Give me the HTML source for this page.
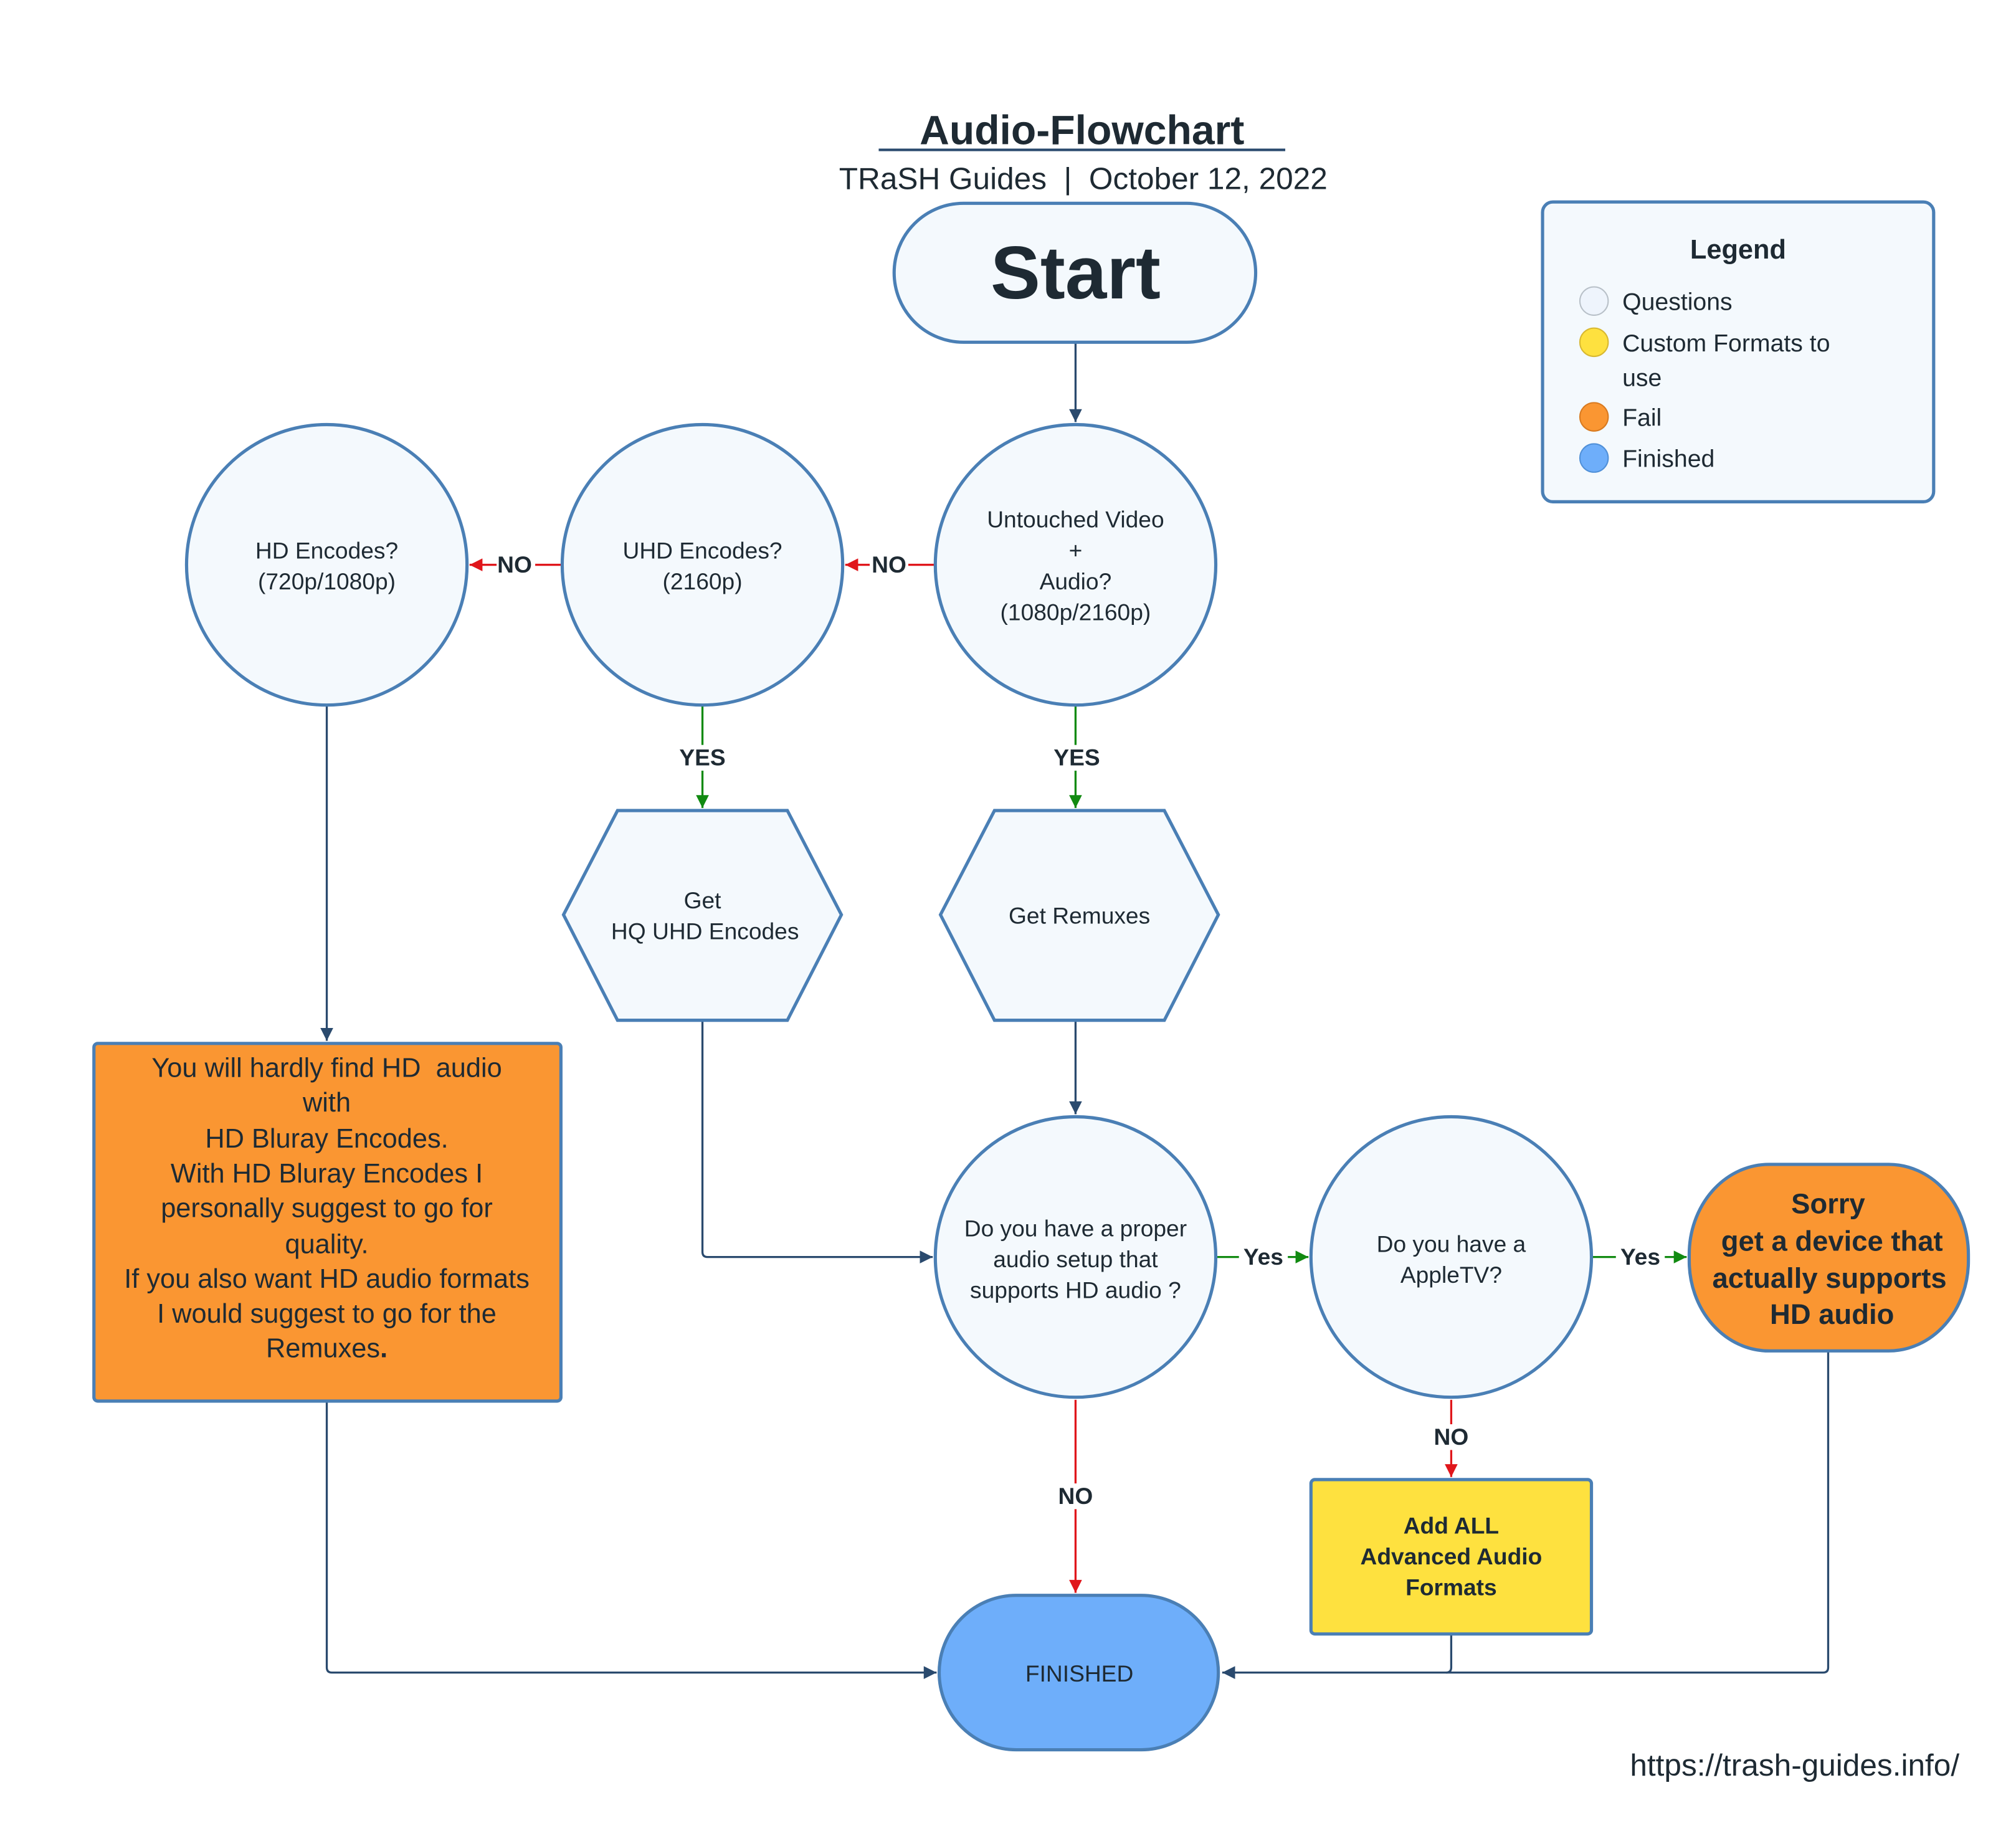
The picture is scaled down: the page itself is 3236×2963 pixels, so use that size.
<!DOCTYPE html>
<html><head><meta charset="utf-8"><style>
html,body{margin:0;padding:0;background:#fff}
svg{display:block}
text{font-family:"Liberation Sans",sans-serif;fill:#1e2a33}
</style></head><body>
<svg width="3236" height="2963" viewBox="0 0 1567 1434.8" xmlns="http://www.w3.org/2000/svg">
<defs>
<marker id="ab" viewBox="0 0 10 10" refX="10" refY="5" markerWidth="11" markerHeight="10" orient="auto-start-reverse" markerUnits="userSpaceOnUse"><path d="M0,0 L10,5 L0,10 z" fill="#2a4a6e"/></marker>
<marker id="ar" viewBox="0 0 10 10" refX="10" refY="5" markerWidth="11" markerHeight="10" orient="auto" markerUnits="userSpaceOnUse"><path d="M0,0 L10,5 L0,10 z" fill="#e0161b"/></marker>
<marker id="ag" viewBox="0 0 10 10" refX="10" refY="5" markerWidth="11" markerHeight="10" orient="auto" markerUnits="userSpaceOnUse"><path d="M0,0 L10,5 L0,10 z" fill="#118a11"/></marker>
</defs>
<rect width="1567" height="1434.8" fill="#fff"/>
<!-- title -->
<text x="841" y="112" font-size="32" font-weight="bold" text-anchor="middle">Audio-Flowchart</text>
<line x1="683" y1="116.5" x2="999" y2="116.5" stroke="#2a4a6e" stroke-width="2"/>
<text x="842" y="147" font-size="24" text-anchor="middle" xml:space="preserve">TRaSH Guides  |  October 12, 2022</text>

<!-- connectors -->
<g fill="none" stroke="#2a4a6e" stroke-width="1.6">
<line x1="836" y1="266" x2="836" y2="328" marker-end="url(#ab)"/>
<line x1="254" y1="548" x2="254" y2="809" marker-end="url(#ab)"/>
<path d="M546,793 V973 Q546,977 550,977 H725" marker-end="url(#ab)"/>
<line x1="836" y1="793" x2="836" y2="866" marker-end="url(#ab)"/>
<path d="M254,1089 V1296 Q254,1300 258,1300 H728" marker-end="url(#ab)"/>
<path d="M1128,1270 V1296 Q1128,1300 1124,1300"/>
<path d="M1421,1050 V1296 Q1421,1300 1417,1300 H950" marker-end="url(#ab)"/>
</g>
<g fill="none" stroke-width="1.6">
<line x1="726" y1="439" x2="657" y2="439" stroke="#e0161b" marker-end="url(#ar)"/>
<line x1="436" y1="439" x2="365" y2="439" stroke="#e0161b" marker-end="url(#ar)"/>
<line x1="546" y1="548" x2="546" y2="628" stroke="#118a11" marker-end="url(#ag)"/>
<line x1="836" y1="548" x2="836" y2="628" stroke="#118a11" marker-end="url(#ag)"/>
<line x1="945" y1="977" x2="1017" y2="977" stroke="#118a11" marker-end="url(#ag)"/>
<line x1="1238" y1="977" x2="1311" y2="977" stroke="#118a11" marker-end="url(#ag)"/>
<line x1="836" y1="1088" x2="836" y2="1238" stroke="#e0161b" marker-end="url(#ar)"/>
<line x1="1128" y1="1088" x2="1128" y2="1148" stroke="#e0161b" marker-end="url(#ar)"/>
</g>
<!-- edge labels -->
<g font-size="18" font-weight="bold" text-anchor="middle">
<rect x="676" y="429" width="30" height="20" fill="#fff"/><text x="691" y="445">NO</text>
<rect x="386" y="429" width="30" height="20" fill="#fff"/><text x="400" y="445">NO</text>
<rect x="526" y="579" width="40" height="20" fill="#fff"/><text x="546" y="595">YES</text>
<rect x="816" y="579" width="40" height="20" fill="#fff"/><text x="837" y="595">YES</text>
<rect x="963" y="967" width="38" height="20" fill="#fff"/><text x="982" y="983">Yes</text>
<rect x="1256" y="967" width="38" height="20" fill="#fff"/><text x="1275" y="983">Yes</text>
<rect x="820" y="1153" width="32" height="20" fill="#fff"/><text x="836" y="1169">NO</text>
<rect x="1112" y="1107" width="32" height="20" fill="#fff"/><text x="1128" y="1123">NO</text>
</g>

<!-- nodes -->
<g stroke="#4a7fb5" stroke-width="2.5" fill="#f4f9fd">
<rect x="695" y="158" width="281" height="108" rx="54"/>
<circle cx="836" cy="439" r="109"/>
<circle cx="546" cy="439" r="109"/>
<circle cx="254" cy="439" r="109"/>
<polygon points="480,630 612,630 654,711 612,793 480,793 438,711"/>
<polygon points="773,630 905,630 947,711 905,793 773,793 731,711"/>
<circle cx="836" cy="977" r="109"/>
<circle cx="1128" cy="977" r="109"/>
<rect x="1313" y="905" width="217" height="145" rx="62" ry="70" fill="#fa9632"/>
<rect x="730" y="1240" width="217" height="120" rx="60" ry="60" fill="#6eaefa"/>
<rect x="1019" y="1150" width="218" height="120" rx="3" fill="#fee13f"/>
<rect x="73" y="811" width="363" height="278" rx="3" fill="#fa9632"/>
<rect x="1199" y="157" width="304" height="233" rx="8"/>
</g>

<text x="836" y="232" font-size="58" font-weight="bold" text-anchor="middle">Start</text>
<g font-size="18" text-anchor="middle">
<text x="836" y="410">Untouched Video</text>
<text x="836" y="434">+</text>
<text x="836" y="458">Audio?</text>
<text x="836" y="482">(1080p/2160p)</text>
<text x="546" y="434">UHD Encodes?</text>
<text x="546" y="458">(2160p)</text>
<text x="254" y="434">HD Encodes?</text>
<text x="254" y="458">(720p/1080p)</text>
<text x="546" y="706">Get</text>
<text x="548" y="730">HQ UHD Encodes</text>
<text x="839" y="718">Get Remuxes</text>
<text x="836" y="961">Do you have a proper</text>
<text x="836" y="985">audio setup that</text>
<text x="836" y="1009">supports HD audio ?</text>
<text x="1128" y="973">Do you have a</text>
<text x="1128" y="997">AppleTV?</text>
<text x="839" y="1307">FINISHED</text>
</g>
<g font-size="22" font-weight="bold" text-anchor="middle">
<text x="1421" y="943">Sorry</text>
<text x="1424" y="972">get a device that</text>
<text x="1422" y="1001">actually supports</text>
<text x="1424" y="1029">HD audio</text>
</g>
<g font-size="18" font-weight="bold" text-anchor="middle">
<text x="1128" y="1192">Add ALL</text>
<text x="1128" y="1216">Advanced Audio</text>
<text x="1128" y="1240">Formats</text>
</g>
<g font-size="21" text-anchor="middle">
<text x="254" y="837" xml:space="preserve">You will hardly find HD  audio</text>
<text x="254" y="864">with</text>
<text x="254" y="892">HD Bluray Encodes.</text>
<text x="254" y="919">With HD Bluray Encodes I</text>
<text x="254" y="946">personally suggest to go for</text>
<text x="254" y="974">quality.</text>
<text x="254" y="1001">If you also want HD audio formats</text>
<text x="254" y="1028">I would suggest to go for the</text>
<text x="254" y="1055">Remuxes<tspan font-weight="bold">.</tspan></text>
</g>

<!-- legend -->
<text x="1351" y="201" font-size="21" font-weight="bold" text-anchor="middle">Legend</text>
<g stroke-width="1">
<circle cx="1239" cy="234" r="11" fill="#eef4fc" stroke="#b8c0c8"/>
<circle cx="1239" cy="266" r="11" fill="#fee13f" stroke="#d8b830"/>
<circle cx="1239" cy="324" r="11" fill="#fa9632" stroke="#d87a20"/>
<circle cx="1239" cy="356" r="11" fill="#6eaefa" stroke="#5090d8"/>
</g>
<g font-size="19">
<text x="1261" y="241">Questions</text>
<text x="1261" y="273">Custom Formats to</text>
<text x="1261" y="300">use</text>
<text x="1261" y="331">Fail</text>
<text x="1261" y="363">Finished</text>
</g>
<text x="1523" y="1380" font-size="24" text-anchor="end">https://trash-guides.info/</text>
</svg>
</body></html>
